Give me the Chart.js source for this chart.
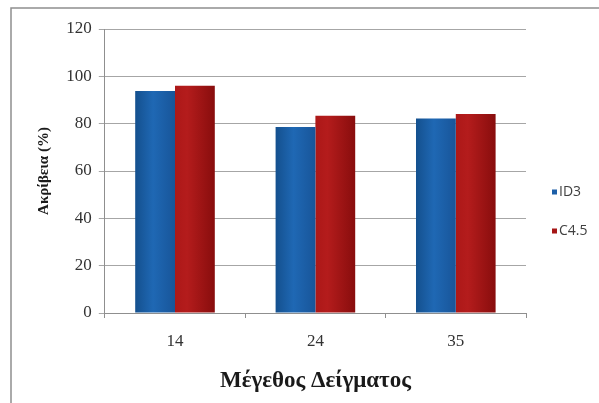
<!DOCTYPE html>
<html>
<head>
<meta charset="utf-8">
<script src="https://cdn.jsdelivr.net/npm/chart.js@4/dist/chart.umd.min.js"></script>
<style>
  html, body { margin: 0; padding: 0; background: #ffffff; }
  canvas { display: block; }
</style>
</head>
<body>
<canvas id="chart" width="599" height="403"></canvas>
<script>
// Sample sizes on the x axis
const sampleSizes = ['14', '24', '35'];
// Accuracy (%) per algorithm
const id3Accuracy = [93.8, 78.6, 82.2];
const c45Accuracy = [96.0, 83.3, 84.1];
const seriesNames = ['ID3', 'C4.5'];
const yTicks = [0, 20, 40, 60, 80, 100, 120];

const seriesKeyColors = ['#1c5fa8', '#a51515'];
const seriesGradients = [
  [[0, '#14508e'], [0.45, '#1f68b4'], [1, '#185599']],
  [[0, '#ac1818'], [0.3, '#b41c1c'], [1, '#880d0d']]
];
const CAT_PCT = 0.567;
const SERIF = '"Liberation Serif", "Times New Roman", serif';

// Horizontal shading across each bar, built from the x scale's own geometry
function barFill(seriesIdx) {
  return (ctx) => {
    const chart = ctx.chart;
    const xs = chart.scales && chart.scales.x;
    if (!xs || typeof ctx.dataIndex !== 'number') return seriesKeyColors[seriesIdx];
    const center = xs.getPixelForValue(ctx.dataIndex);
    const barW = xs.width / sampleSizes.length * CAT_PCT / 2;
    const left = seriesIdx === 0 ? center - barW : center;
    if (!isFinite(left) || !isFinite(barW) || barW <= 0) return seriesKeyColors[seriesIdx];
    const g = chart.ctx.createLinearGradient(left, 0, left + barW, 0);
    seriesGradients[seriesIdx].forEach(([o, c]) => g.addColorStop(o, c));
    return g;
  };
}

// Frame lines along the top and left edges
const framePlugin = {
  id: 'frameLines',
  beforeDraw(chart) {
    const c = chart.ctx;
    c.save();
    c.strokeStyle = '#8f8f8f';
    c.lineWidth = 1.5;
    c.beginPath();
    c.moveTo(11, 403);
    c.lineTo(11, 8);
    c.lineTo(599, 8);
    c.stroke();
    c.restore();
  }
};

// Series key to the right of the plot
const sideKeyPlugin = {
  id: 'sideKey',
  afterDraw(chart) {
    const c = chart.ctx;
    const area = chart.chartArea;
    const x0 = area.right + 26;
    const yStart = 192;
    const gap = 39;
    c.save();
    c.font = '14px "Open Sans", "Liberation Sans", sans-serif';
    c.textBaseline = 'middle';
    c.textAlign = 'left';
    chart.data.datasets.forEach((ds, i) => {
      const y = yStart + i * gap;
      c.fillStyle = seriesKeyColors[i];
      c.fillRect(x0, y - 2.5, 5, 5);
      c.fillStyle = '#404040';
      c.fillText(ds.label, x0 + 7, y);
    });
    c.restore();
  }
};

new Chart(document.getElementById('chart'), {
  type: 'bar',
  data: {
    labels: sampleSizes,
    datasets: [
      { label: seriesNames[0], data: id3Accuracy, backgroundColor: barFill(0), borderWidth: 0 },
      { label: seriesNames[1], data: c45Accuracy, backgroundColor: barFill(1), borderWidth: 0 }
    ]
  },
  options: {
    responsive: false,
    animation: false,
    devicePixelRatio: 1,
    categoryPercentage: CAT_PCT,
    barPercentage: 1.0,
    layout: { padding: { top: 29, right: 73, left: 14, bottom: 6.8 } },
    plugins: {
      legend: { display: false },
      tooltip: { enabled: false },
      title: { display: false }
    },
    scales: {
      x: {
        grid: { drawOnChartArea: false, drawTicks: true, tickLength: 5, color: '#8f8f8f' },
        border: { color: '#8f8f8f', width: 1 },
        ticks: {
          color: '#333333',
          padding: 13.8,
          font: { family: SERIF, size: 17 }
        },
        title: {
          display: true,
          text: 'Μέγεθος Δείγματος',
          color: '#1a1a1a',
          padding: { top: 1.2, bottom: 1.4 },
          font: { family: SERIF, size: 23, weight: 'bold' }
        }
      },
      y: {
        min: 0,
        max: 120,
        afterBuildTicks(scale) { scale.ticks = yTicks.map(v => ({ value: v })); },
        grid: { color: '#a6a6a6', tickLength: 6, drawTicks: true },
        border: { color: '#8f8f8f', width: 1 },
        ticks: {
          color: '#333333',
          padding: 7,
          font: { family: SERIF, size: 17 }
        },
        title: {
          display: true,
          text: 'Ακρίβεια (%)',
          color: '#1a1a1a',
          padding: { top: 21, bottom: 6.3 },
          font: { family: SERIF, size: 15, weight: 'bold' }
        }
      }
    }
  },
  plugins: [framePlugin, sideKeyPlugin]
});
</script>
</body>
</html>
